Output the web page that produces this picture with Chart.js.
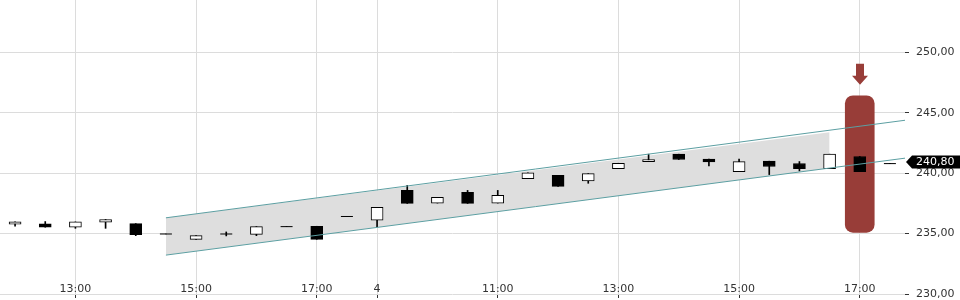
<!DOCTYPE html>
<html>
<head>
<meta charset="utf-8">
<script src="https://cdn.jsdelivr.net/npm/chart.js@4/dist/chart.umd.min.js"></script>
<style>
  html, body { margin: 0; padding: 0; background: #fff; }
  #wrap { width: 960px; height: 300px; position: relative; }
</style>
</head>
<body>
<div id="wrap"><canvas id="c"></canvas></div>
<script>
// ---- data ----
const categories = ['12:00','12:30','13:00','13:30','14:00','14:30','15:00','15:30','16:00','16:30','17:00','17:30',
                    '4','09:30','10:00','10:30','11:00','11:30','12:00','12:30','13:00','13:30','14:00','14:30','15:00','15:30','16:00','16:30','17:00','17:30'];
const tickLabels = ['13:00','15:00','17:00','4','11:00'];
const openV  = [235.78,235.81,235.53,235.94,235.83,234.97,234.53,234.97,234.94,235.58,235.61,236.42,
                236.11,238.58,237.53,238.42,237.53,239.56,239.83,239.36,240.39,240.97,241.58,241.17,240.14,241.00,240.81,240.39,241.39,240.80];
const highV  = [235.97,236.00,235.97,236.17,235.83,234.97,234.83,235.14,235.58,235.58,235.61,236.42,
                237.17,239.00,238.00,238.58,238.58,240.03,239.83,239.97,240.83,241.58,241.58,241.17,241.17,241.00,240.97,241.58,241.39,240.80];
const lowV   = [235.61,235.53,235.44,235.44,234.83,234.97,234.53,234.81,234.83,235.58,234.53,236.42,
                235.58,237.50,237.53,237.50,237.53,239.56,238.92,239.17,240.39,240.97,241.14,240.61,240.14,239.89,240.19,240.39,240.14,240.80];
const closeV = [235.97,235.53,235.97,236.17,234.92,234.97,234.83,234.97,235.58,235.58,234.53,236.42,
                237.17,237.50,238.00,237.50,238.17,240.03,238.92,239.97,240.83,241.14,241.14,240.94,240.97,240.56,240.39,241.58,240.14,240.80];
const yTicks = [230, 235, 240, 245, 250];
const yMin = 230, yMax = 254.35;
// trend channel (index positions along the time axis and prices)
const channelX     = [5, 29.5];
const channelUpper = [236.31, 244.39];
const channelLower = [233.22, 241.25];
const bandX     = [5, 27];
const bandUpper = [236.31, 243.40];
const bandLower = [233.22, 240.43];
// highlighted candle
const highlightIndex = 28;
const highlightRange = [235.11, 246.42];
const lastPrice = 240.80;

// ---- styling ----
const FONT = { family: 'DejaVu Sans', size: 11 };
const TEXT = '#333333';
const GRID = '#dcdcdc';
const RED = '#983d38';
const TEAL = '#5c9fa2';

const fmt = v => v.toFixed(2).replace('.', ',');
const idx = categories.map((_, i) => i);

const bodyData = idx.map(i => ({ x: i, y: [openV[i], closeV[i]] }));
const bodyColors = idx.map(i => closeV[i] >= openV[i] ? '#ffffff' : '#000000');
const wickData = idx.map(i => ({ x: i, y: [lowV[i], highV[i]] }));
const dojiData = idx.filter(i => openV[i] === closeV[i]).map(i => ({ x: i, y: closeV[i] }));

const pts = (xs, ys) => xs.map((x, k) => ({ x, y: ys[k] }));

const noPad = s => { s.paddingTop = 0; s.paddingBottom = 0; s.paddingLeft = 0; s.paddingRight = 0; };

const overlay = {
  id: 'overlay',
  afterDatasetsDraw(chart) {
    const ctx = chart.ctx, xs = chart.scales.x, ys = chart.scales.y;
    // arrow above the highlighted candle
    const cx = Math.round(xs.getPixelForValue(highlightIndex));
    const top = ys.getPixelForValue(highlightRange[1]);
    ctx.save();
    ctx.fillStyle = RED;
    ctx.beginPath();
    ctx.moveTo(cx - 4, top - 32);
    ctx.lineTo(cx + 4, top - 32);
    ctx.lineTo(cx + 4, top - 20);
    ctx.lineTo(cx + 8, top - 20);
    ctx.lineTo(cx, top - 11);
    ctx.lineTo(cx - 8, top - 20);
    ctx.lineTo(cx - 4, top - 20);
    ctx.closePath();
    ctx.fill();
    ctx.restore();
  },
  afterDraw(chart) {
    const ctx = chart.ctx, ys = chart.scales.y, area = chart.chartArea;
    const y = Math.round(ys.getPixelForValue(lastPrice)) - 2;
    const x0 = area.right + 1;
    ctx.save();
    ctx.fillStyle = '#000000';
    ctx.beginPath();
    ctx.moveTo(x0, y);
    ctx.lineTo(x0 + 6, y - 6.5);
    ctx.lineTo(chart.width, y - 6.5);
    ctx.lineTo(chart.width, y + 6.5);
    ctx.lineTo(x0 + 6, y + 6.5);
    ctx.closePath();
    ctx.fill();
    ctx.fillStyle = '#ffffff';
    ctx.font = '11px "DejaVu Sans"';
    ctx.textBaseline = 'middle';
    ctx.textAlign = 'left';
    ctx.fillText(fmt(lastPrice), x0 + 10, y + 0.5);
    ctx.restore();
  }
};

new Chart(document.getElementById('c'), {
  type: 'bar',
  data: {
    datasets: [
      { type: 'line', data: pts(channelX, channelUpper), borderColor: TEAL, borderWidth: 1, pointRadius: 0, fill: false, order: 1 },
      { type: 'line', data: pts(channelX, channelLower), borderColor: TEAL, borderWidth: 1, pointRadius: 0, fill: false, order: 1 },
      { type: 'scatter', data: dojiData, pointStyle: 'line', pointRadius: 6, borderColor: '#000', borderWidth: 1, order: 5 },
      { type: 'bar', data: bodyData, backgroundColor: bodyColors, borderColor: '#000', borderWidth: 1, borderSkipped: false, barThickness: 12, grouped: false, order: 6 },
      { type: 'bar', data: wickData, backgroundColor: '#000', borderWidth: 0, barThickness: 1, grouped: false, order: 7 },
      { type: 'bar', data: [{ x: highlightIndex, y: highlightRange }], backgroundColor: RED, borderWidth: 0, borderRadius: 8, borderSkipped: false, barThickness: 29, grouped: false, order: 8 },
      { type: 'line', data: pts(bandX, bandUpper), borderWidth: 0, pointRadius: 0, fill: '+1', backgroundColor: '#dedede', order: 9 },
      { type: 'line', data: pts(bandX, bandLower), borderWidth: 0, pointRadius: 0, fill: false, order: 10 }
    ]
  },
  options: {
    responsive: true,
    maintainAspectRatio: false,
    animation: false,
    events: [],
    layout: { autoPadding: false, padding: { left: 0, right: 0, top: 0, bottom: 6 } },
    plugins: { legend: { display: false }, tooltip: { enabled: false } },
    scales: {
      x: {
        type: 'linear',
        min: -0.5, max: 29.5,
        offset: false,
        border: { display: false },
        grid: { color: GRID, tickColor: TEXT, tickLength: 4, lineWidth: 1, offset: false },
        afterBuildTicks: s => { s.ticks = idx.filter(i => tickLabels.includes(categories[i])).map(i => ({ value: i })); },
        afterFit: noPad,
        ticks: { mirror: true, padding: -2, autoSkip: false, maxRotation: 0, color: TEXT, font: FONT,
                 callback: v => categories[v] }
      },
      y: {
        type: 'linear',
        position: 'right',
        min: yMin, max: yMax,
        border: { display: false },
        grid: { color: GRID, tickColor: TEXT, tickLength: 4, lineWidth: 1 },
        afterBuildTicks: s => { s.ticks = yTicks.map(v => ({ value: v })); },
        afterFit: s => { s.width = 55; noPad(s); },
        ticks: { padding: 7, color: TEXT, font: FONT, callback: v => fmt(v) }
      }
    }
  },
  plugins: [overlay]
});
</script>
</body>
</html>
